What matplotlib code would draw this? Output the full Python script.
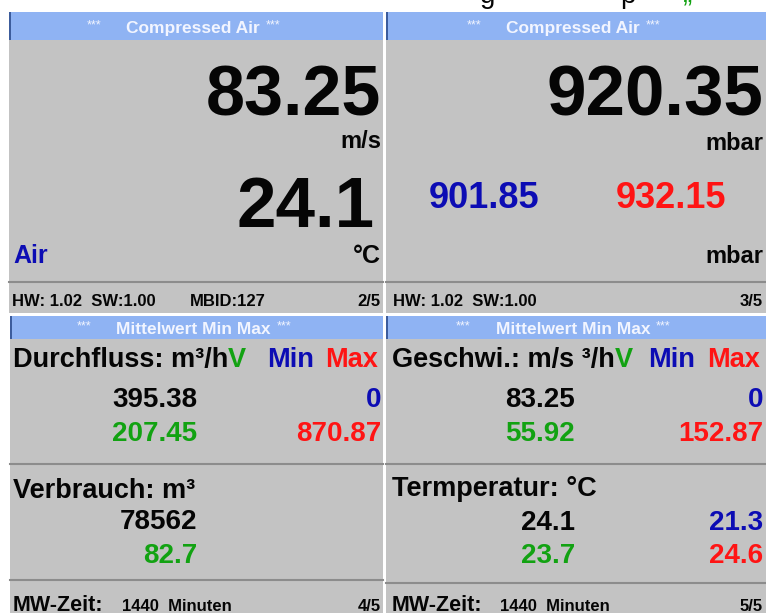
import matplotlib
matplotlib.use("Agg")
import matplotlib.pyplot as plt
from matplotlib.patches import Rectangle

# ---------------- data ----------------
panel_titles = ["Compressed Air", "Compressed Air", "Mittelwert Min Max", "Mittelwert Min Max"]
page_numbers = ["2/5", "3/5", "4/5", "5/5"]

flow_value = "83.25"
flow_unit = "m/s"
temp_value = "24.1"
temp_unit = "°C"
medium = "Air"

pressure_value = "920.35"
pressure_unit = "mbar"
pressure_min = "901.85"
pressure_max = "932.15"

hw_version = "HW: 1.02"
sw_version = "SW:1.00"
mbid = "MBID:127"

stat_labels = ["Durchfluss: m³/h", "Verbrauch: m³", "Geschwi.: m/s ³/h", "Termperatur: °C"]
stat_current = ["395.38", "78562", "83.25", "24.1"]
stat_mean = ["207.45", "82.7", "55.92", "23.7"]
stat_min = ["0", "", "0", "21.3"]
stat_max = ["870.87", "", "152.87", "24.6"]
mw_time = "1440"
mw_unit = "Minuten"

# ---------------- style ----------------
GRAY = "#c3c3c3"
HEAD = "#8fb3f3"
HEAD_EDGE = "#3c5c9c"
DIV = "#8c8c8c"
BLACK = "#050505"
BLUE = "#0c0cb4"
RED = "#ff1414"
GREEN = "#12a212"
HEADTXT = "#f2f5ff"

plt.rcParams['font.family'] = ['Liberation Sans', 'DejaVu Sans']
NARROW = ['Liberation Sans Narrow', 'Liberation Sans', 'DejaVu Sans']

fig = plt.figure(figsize=(7.66, 6.13), dpi=100)
fig.patch.set_facecolor("white")
ax = fig.add_axes([0, 0, 1, 1])
ax.set_xlim(0, 766)
ax.set_ylim(613, 0)
ax.axis("off")


def rect(x0, y0, x1, y1, color, z=0):
    ax.add_patch(Rectangle((x0, y0), x1 - x0, y1 - y0, facecolor=color,
                           edgecolor="none", zorder=z))


def txt(x, y, s, size, color=BLACK, ha="left", weight="bold", family=None, **kw):
    return ax.text(x, y, s, fontsize=size, color=color, ha=ha, va="baseline",
                   fontweight=weight, family=family or ['Liberation Sans', 'DejaVu Sans'],
                   zorder=5, **kw)


# panels geometry: x0, y0, x1, y1, header bottom
panels = [
    (9, 12, 383, 313, 40),
    (386, 12, 766, 313, 40),
    (10, 316, 383, 613, 339),
    (386, 316, 766, 613, 339),
]

# partially visible line of text above the screens (only descenders show)
txt(480, 3, "g", 20, weight="normal")
txt(620, 3, "p", 20, weight="normal")
txt(683, 3, "„", 20, color=GREEN, weight="normal")

for i, (x0, y0, x1, y1, hb) in enumerate(panels):
    rect(x0, y0, x1, y1, GRAY)
    rect(x0, y0, x1, hb, HEAD, z=1)
    rect(x0, y0, x0 + 2, hb, HEAD_EDGE, z=2)
    cx = (x0 + x1) / 2 - 3
    base = (y0 + hb) / 2 + 7 if i < 2 else (y0 + hb) / 2 + 6
    t = txt(cx, base, panel_titles[i], 12.5, color=HEADTXT, ha="center",
            weight="bold", family=NARROW)
    ax.annotate("***", xy=(0, 1), xycoords=t, xytext=(-18, 1), textcoords="offset points",
                ha="right", va="top", fontsize=9, color=HEADTXT, family=NARROW, zorder=5)
    ax.annotate("***", xy=(1, 1), xycoords=t, xytext=(4, 1), textcoords="offset points",
                ha="left", va="top", fontsize=9, color=HEADTXT, family=NARROW, zorder=5)

# ---- top-left panel ----
txt(381, 115, flow_value, 50.5, ha="right")
txt(381, 148, flow_unit, 17, ha="right")
txt(375, 227, temp_value, 51, ha="right")
txt(381, 263, temp_unit, 18, ha="right")
txt(13, 263, medium, 18, color=BLUE)
ax.plot([9, 383], [282, 282], color=DIV, lw=1.5, zorder=3)
txt(12, 306, hw_version + "  " + sw_version, 12, family=NARROW)
txt(190, 306, mbid, 12, family=NARROW)
txt(381, 306, page_numbers[0], 12, ha="right", family=NARROW)

# ---- top-right panel ----
txt(763, 115, pressure_value, 51, ha="right")
txt(763, 150, pressure_unit, 17, ha="right")
txt(429, 208, pressure_min, 26, color=BLUE)
txt(616, 208, pressure_max, 26, color=RED)
txt(763, 263, pressure_unit, 17, ha="right")
ax.plot([386, 766], [282, 282], color=DIV, lw=1.5, zorder=3)
txt(393, 306, hw_version + "  " + sw_version, 12, family=NARROW)
txt(763, 306, page_numbers[1], 12, ha="right", family=NARROW)

# ---- bottom panels ----
layouts = [
    dict(lx=13, vr=197, mr=381, minx=267, maxx=325, hdr=367, r1=407, r2=441,
         div1=464, lab2=498, s1=529, s2=563, div2=580, foot=611, tx=122, px=10, pr=383),
    dict(lx=392, vr=575, mr=763, minx=648, maxx=707, hdr=367, r1=407, r2=441,
         div1=464, lab2=496, s1=530, s2=563, div2=583, foot=611, tx=500, px=386, pr=766),
]
for k, L in enumerate(layouts):
    a = 0 if k == 0 else 2
    b = a + 1
    lab = txt(L["lx"], L["hdr"], stat_labels[a], 19.5)
    ax.annotate("V", xy=(1, 0), xycoords=lab, ha="left", va="bottom", fontsize=19.5,
                fontweight="bold", color=GREEN, zorder=5)
    txt(L["minx"], L["hdr"], "Min", 19.5, color=BLUE)
    txt(L["maxx"], L["hdr"], "Max", 19.5, color=RED)
    txt(L["vr"], L["r1"], stat_current[a], 20, ha="right")
    txt(L["mr"], L["r1"], stat_min[a], 20, color=BLUE, ha="right")
    txt(L["vr"], L["r2"], stat_mean[a], 20, color=GREEN, ha="right")
    txt(L["mr"], L["r2"], stat_max[a], 20, color=RED, ha="right")
    ax.plot([L["px"], L["pr"]], [L["div1"], L["div1"]], color=DIV, lw=1.5, zorder=3)

    txt(L["lx"], L["lab2"], stat_labels[b], 19.5)
    txt(L["vr"], L["s1"], stat_current[b], 20, ha="right")
    txt(L["vr"], L["s2"], stat_mean[b], 20, color=GREEN, ha="right")
    if stat_min[b]:
        txt(L["mr"], L["s1"], stat_min[b], 20, color=BLUE, ha="right")
    if stat_max[b]:
        txt(L["mr"], L["s2"], stat_max[b], 20, color=RED, ha="right")
    ax.plot([L["px"], L["pr"]], [L["div2"], L["div2"]], color=DIV, lw=1.5, zorder=3)

    txt(L["lx"], L["foot"], "MW-Zeit:", 15.5, family=NARROW)
    txt(L["tx"], L["foot"], mw_time + "  " + mw_unit, 12, family=NARROW)
    txt(L["mr"], L["foot"], page_numbers[2 + k], 12, ha="right", family=NARROW)

fig.savefig("out.png", dpi=100, facecolor="white")
